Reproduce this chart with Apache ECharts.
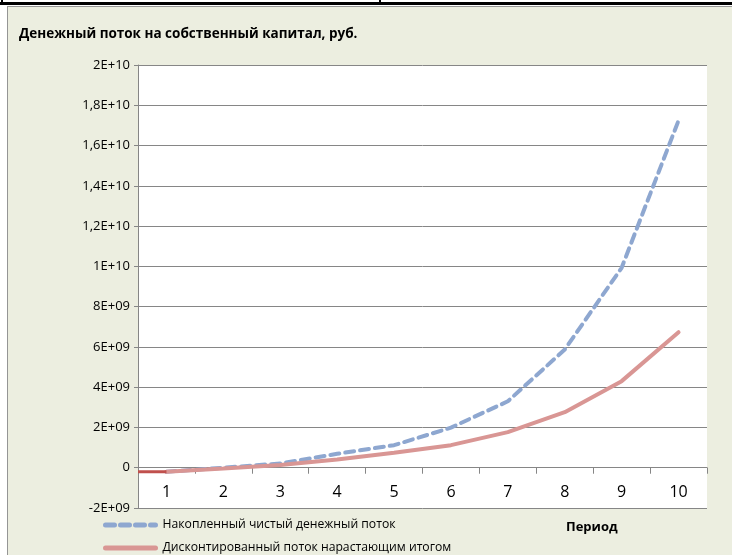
<!DOCTYPE html>
<html><head><meta charset="utf-8">
<script src="https://cdn.jsdelivr.net/npm/echarts@6/dist/echarts.min.js"></script>
<style>
html,body{margin:0;padding:0;background:#fff;}
#wrap{position:relative;width:732px;height:555px;overflow:hidden;}
#frame{position:absolute;left:7px;top:6px;width:740px;height:570px;background:#ECEEE0;border:1px solid #959595;box-sizing:border-box;}
#topline{position:absolute;left:0;top:2px;width:732px;height:3px;background:#000;}
#v1{position:absolute;left:379px;top:0;width:2px;height:4px;background:#000}
#v0{position:absolute;left:1px;top:0;width:2px;height:4px;background:#000}
#chart{position:absolute;left:0;top:0;width:732px;height:555px;}
</style></head>
<body>
<div id="wrap">
<div id="frame"></div><div id="topline"></div><div id="v0"></div><div id="v1"></div>
<div id="chart"></div>
</div>
<script>
const categories = ['1','2','3','4','5','6','7','8','9','10'];
const accumulatedFlow = [-0.2e9, 0.0e9, 0.21e9, 0.69e9, 1.12e9, 1.99e9, 3.3e9, 5.87e9, 9.93e9, 17.24e9];
const discountedFlow = [-0.2e9, -0.04e9, 0.13e9, 0.41e9, 0.74e9, 1.12e9, 1.77e9, 2.76e9, 4.3e9, 6.73e9];
const initialPeriods = [0.5, 1];
const initialValues = [-0.2e9, -0.2e9];
const yTickLabels = ['-2E+09','0','2E+09','4E+09','6E+09','8E+09','1E+10','1,2E+10','1,4E+10','1,6E+10','1,8E+10','2E+10'];
const yMin = -2e9, yMax = 2e10, yStep = 2e9;
const seriesNames = ['Накопленный чистый денежный поток','Дисконтированный поток нарастающим итогом'];
const titleText = 'Денежный поток на собственный капитал, руб.';
const xTitle = 'Период';

const FONT = '"Open Sans", sans-serif';
const H = 555, GRID_TOP = 65, GRID_BOTTOM = 47;
const gridHeight = H - GRID_TOP - GRID_BOTTOM;
// lift the category axis so that it crosses the value axis at zero
const zeroOffset = -((0 - yMin) / (yMax - yMin)) * gridHeight;

const chart = echarts.init(document.getElementById('chart'), null, {renderer:'canvas'});
chart.setOption({
  backgroundColor: 'transparent',
  animation: false,
  title: {
    text: titleText, left: 14, top: 22,
    textStyle: {fontFamily: FONT, fontSize: 13.5, fontWeight: 'bold', color: '#000'}
  },
  grid: {left: 138, right: 25, top: GRID_TOP, bottom: GRID_BOTTOM, show: true, backgroundColor: '#fff', borderWidth: 0},
  legend: {
    data: seriesNames, orient: 'vertical', left: 103, top: 519, padding: 0,
    itemWidth: 50, itemHeight: 10, itemGap: 11,
    itemStyle: {opacity: 0},
    lineStyle: {width: 5},
    textStyle: {fontFamily: FONT, fontSize: 12.2, color: '#000', padding:[0,0,0,2]}
  },
  graphic: [{
    type: 'text', left: 566, top: 521,
    style: {text: xTitle, font: 'bold 13px ' + FONT, fill: '#000'}
  }],
  xAxis: [{
    type: 'category', data: categories, boundaryGap: true,
    position: 'bottom', offset: zeroOffset,
    axisLine: {onZero: false, lineStyle: {color: '#868686', width: 1}},
    axisTick: {show: true, length: 6, lineStyle: {color: '#868686'}},
    axisLabel: {fontFamily: FONT, fontSize: 16, color: '#000', margin: 17},
    splitLine: {show: false}
  }, {
    type: 'value', min: 0.5, max: 10.5, show: false,
    axisLine: {onZero: false}
  }],
  yAxis: {
    type: 'value', min: yMin, max: yMax, interval: yStep,
    axisLine: {show: true, onZero: false, lineStyle: {color: '#868686'}},
    axisTick: {show: true, length: 4, lineStyle: {color: '#868686'}},
    axisLabel: {fontFamily: FONT, fontSize: 13, color: '#000', margin: 8,
      formatter: v => yTickLabels[Math.round((v - yMin) / yStep)]},
    splitLine: {show: true, lineStyle: {color: '#868686', width: 1}}
  },
  series: [{
    name: seriesNames[0], type: 'line', data: accumulatedFlow, symbol: 'none',
    lineStyle: {color: '#8EA7D0', width: 4, type: [9, 6], cap: 'round'},
    itemStyle: {color: '#8EA7D0'}, z: 2
  }, {
    name: seriesNames[1], type: 'line', data: discountedFlow, symbol: 'none',
    lineStyle: {color: '#D99694', width: 4, cap: 'round'},
    itemStyle: {color: '#D99694'}, z: 3
  }, {
    name: 'init', type: 'line', xAxisIndex: 1, symbol: 'none',
    data: initialPeriods.map((p, i) => [p, initialValues[i]]),
    lineStyle: {color: '#C0504D', width: 3}, z: 4
  }]
});
</script>
</body></html>
